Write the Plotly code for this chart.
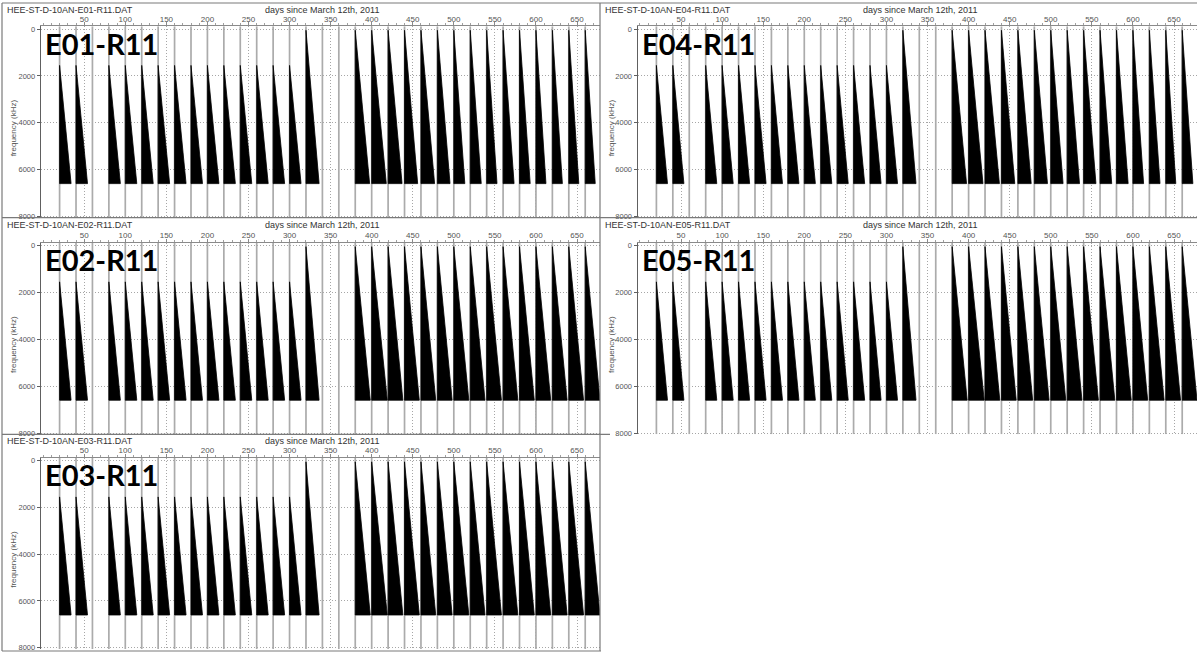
import plotly.graph_objects as go

# ---------------- data ----------------
panel_names = ["E01-R11", "E02-R11", "E03-R11", "E04-R11", "E05-R11"]
file_prefix = "HEE-ST-D-10AN-"
x_title = "days since March 12th, 2011"
y_title = "frequency (kHz)"

# days on which a measurement was logged (grey markers)
marker_days = [20, 40, 60, 80, 100, 120, 140, 160, 180, 200, 220, 240, 260, 280,
               300, 320, 340, 360, 380, 400, 420, 440, 460, 480, 500, 520, 540,
               560, 580, 600, 620, 640, 660]

# frequency sweeps: start day, start frequency, end frequency
sweep_days = [20, 40, 80, 100, 120, 140, 160, 180, 200, 220, 240, 260, 280, 300,
              320, 380, 400, 420, 440, 460, 480, 500, 520, 540, 560, 580, 600,
              620, 640, 660]
sweep_start_khz = [1550, 1550, 1550, 1550, 1550, 1550, 1550, 1550, 1550, 1550,
                   1550, 1550, 1550, 1550, 50, 50, 50, 50, 50, 50, 50, 50, 50,
                   50, 50, 50, 50, 50, 50, 50]
sweep_end_khz = [6600] * len(sweep_days)

# sweep durations (days) per electrode pair
sweep_len = {
    "E01-R11": [14, 14, 14, 14, 14, 14, 14, 14, 14, 14, 14, 14, 14, 14, 16,
                17.5, 17.8, 17, 16, 16.6, 15.4, 13.4, 13.4, 12.6, 13.4, 13,
                12.2, 12.2, 12.2, 12.2],
    "E02-R11": [14, 14, 14, 14, 14, 14, 14, 14, 14, 14, 14, 14, 14, 14, 16,
                18.3, 19, 18, 18, 18, 18, 18.3, 18, 18, 18, 18, 18, 18, 18, 18],
    "E03-R11": [14, 14, 14, 14, 14, 14, 14, 14, 14, 14, 14, 14, 14, 14, 16,
                18.3, 19, 18, 18, 18, 18, 18.3, 18, 18, 18, 18, 18, 18, 18, 18],
    "E04-R11": [13.5, 13.5, 13.5, 13.5, 13.5, 13.5, 13.5, 13.5, 13.5, 13.5,
                13.5, 13.5, 13.5, 13.5, 16, 17.5, 17.5, 17.5, 16.2, 16.2, 16,
                15, 15, 15, 14.2, 14.2, 13, 13, 12.2, 13],
    "E05-R11": [13.5, 13.5, 13.5, 13.5, 13.5, 13.5, 13.5, 13.5, 13.5, 13.5,
                13.5, 13.5, 13.5, 13.5, 16, 18.3, 19, 18, 18, 18, 18, 18.3, 18,
                18, 18, 18, 18, 18, 18, 18],
}

x_ticks = [50, 100, 150, 200, 250, 300, 350, 400, 450, 500, 550, 600, 650]
y_ticks = [0, 2000, 4000, 6000, 8000]
x_range = [-3, 678]
y_range = [8055, -127]

# ---------------- layout geometry (pixels) ----------------
W, H = 1197, 656
col_plot = [(40.7, 600), (637.5, 1197)]
col_frame_left = [2, 600]
row_plot = [(25.3, 218), (243, 436), (459.5, 652)]
row_frame_top = [2, 218, 436]
panel_pos = [(0, 0), (0, 1), (0, 2), (1, 0), (1, 1)]  # (col, row)


def fx(px):
    return px / W


def fy(py):
    return 1 - py / H


FONT = "Liberation Sans, Arial, sans-serif"
GRID = "#a6a6a6"
fig = go.Figure()
annotations = []
shapes = []

for i, name in enumerate(panel_names):
    c, r = panel_pos[i]
    ax = "" if i == 0 else str(i + 1)
    xa, ya = "x" + ax, "y" + ax

    # grey marker lines spanning the full frequency axis
    mx, my = [], []
    for d in marker_days:
        mx += [d, d, None]
        my += [y_range[1], y_range[0], None]
    fig.add_trace(go.Scatter(x=mx, y=my, mode="lines", xaxis=xa, yaxis=ya,
                             line=dict(color="#ababab", width=1.7),
                             hoverinfo="skip", showlegend=False))

    # black sweep triangles
    tx, ty = [], []
    for d, f0, f1, L in zip(sweep_days, sweep_start_khz, sweep_end_khz, sweep_len[name]):
        tx += [d, d, d + L, d, None]
        ty += [f0, f1, f1, f0, None]
    fig.add_trace(go.Scatter(x=tx, y=ty, mode="lines", fill="toself",
                             fillcolor="black", xaxis=xa, yaxis=ya,
                             line=dict(color="black", width=0.8),
                             hoverinfo="skip", showlegend=False))

    x0p, x1p = col_plot[c]
    y0p, y1p = row_plot[r]
    fig.layout["xaxis" + ax] = dict(
        domain=[fx(x0p), fx(x1p)], anchor=ya, side="top", range=x_range,
        tickvals=x_ticks, tickfont=dict(size=8, color="#555", family=FONT),
        ticklabelstandoff=-3,
        showgrid=True, gridcolor=GRID, griddash="1px,2px", gridwidth=1,
        showline=True, linecolor="#8a8a8a", linewidth=1,
        ticks="outside", ticklen=3, tickcolor="#8a8a8a",
        minor=dict(ticks="outside", ticklen=2, dtick=10, tickcolor="#a0a0a0"),
        zeroline=False, fixedrange=True)
    fig.layout["yaxis" + ax] = dict(
        domain=[fy(y1p), fy(y0p)], anchor=xa, range=y_range,
        tickvals=y_ticks, tickfont=dict(size=7.5, color="#555", family=FONT),
        showgrid=True, gridcolor=GRID, griddash="1px,2px", gridwidth=1,
        showline=True, linecolor="#606060", linewidth=1,
        ticks="outside", ticklen=3, tickcolor="#606060",
        zeroline=False, fixedrange=True)

    fl = col_frame_left[c]
    ft = row_frame_top[r]
    # file name and axis caption in the panel header
    annotations.append(dict(text=file_prefix + name + ".DAT", x=fx(fl + 3), y=fy(ft + 7),
                            xref="paper", yref="paper", xanchor="left", yanchor="middle",
                            showarrow=False, font=dict(size=9, color="#333", family=FONT)))
    annotations.append(dict(text=x_title, x=fx(fl + 320), y=fy(ft + 7),
                            xref="paper", yref="paper", xanchor="center", yanchor="middle",
                            showarrow=False, font=dict(size=9, color="#333", family=FONT)))
    annotations.append(dict(text=y_title, x=fx(fl + 11.5), y=fy((y0p + y1p) / 2 + 6),
                            xref="paper", yref="paper", xanchor="center", yanchor="middle",
                            textangle=-90, showarrow=False,
                            font=dict(size=8, color="#555", family=FONT)))
    # large panel label
    annotations.append(dict(text="<b>" + name + "</b>", x=fx(x0p + 2), y=fy(y0p + 17),
                            xref="paper", yref="paper", xanchor="left", yanchor="middle",
                            showarrow=False,
                            font=dict(size=29, color="black", family="Lato, Open Sans, sans-serif")))

# panel frames
frame = dict(type="line", xref="paper", yref="paper", line=dict(color="#7a7a7a", width=1.2))
for (xa_, ya_, xb_, yb_) in [
    (2, 2, W, 2), (2, 218, W, 218), (2, 436, 610, 436), (2, 654, 601, 654),
    (2, 2, 2, 654), (600, 2, 600, 654),
]:
    shapes.append(dict(frame, x0=fx(xa_), y0=fy(ya_), x1=fx(xb_), y1=fy(yb_)))

fig.update_layout(width=W, height=H, margin=dict(l=0, r=0, t=0, b=0),
                  paper_bgcolor="white", plot_bgcolor="white",
                  annotations=annotations, shapes=shapes, showlegend=False)

fig.write_html("out.html")
